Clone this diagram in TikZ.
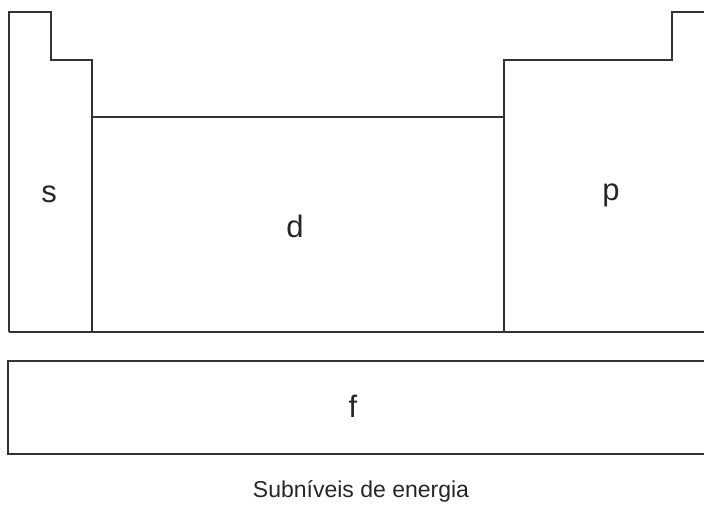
\documentclass[tikz,border=0pt]{standalone}
\usepackage{fontspec}
\setmainfont{Liberation Sans}
\begin{document}
\begin{tikzpicture}[x=1pt,y=-1pt,
  edge/.style={draw=black!80,line width=2pt,line join=miter},
  blocklabel/.style={anchor=base,inner sep=0pt,font=\fontsize{31}{31}\selectfont,text=black!85},
  caption/.style={anchor=base,inner sep=0pt,font=\fontsize{23}{23}\selectfont,text=black!85}]
\useasboundingbox (0,0) rectangle (704,505);
\clip (0,0) rectangle (704,505);
% outline of the main block
\draw[edge] (9,332) -- (9,12) -- (51,12) -- (51,60) -- (92,60) -- (92,117) -- (504,117) -- (504,60) -- (672,60) -- (672,12) -- (712,12);
\draw[edge] (9,332) -- (712,332);
\draw[edge] (92,117) -- (92,332);
\draw[edge] (504,117) -- (504,332);
% f block
\draw[edge] (712,361) -- (8,361) -- (8,454) -- (712,454);
% labels
\node[blocklabel] (s) at (49,202.5) {s};
\node[blocklabel] (d) at (295,237) {d};
\node[blocklabel] (p) at (611,201) {p};
\node[blocklabel] (f) at (353,417.5) {f};
\node[caption] (cap) at (361,497) {Subníveis de energia};
\end{tikzpicture}
\end{document}
